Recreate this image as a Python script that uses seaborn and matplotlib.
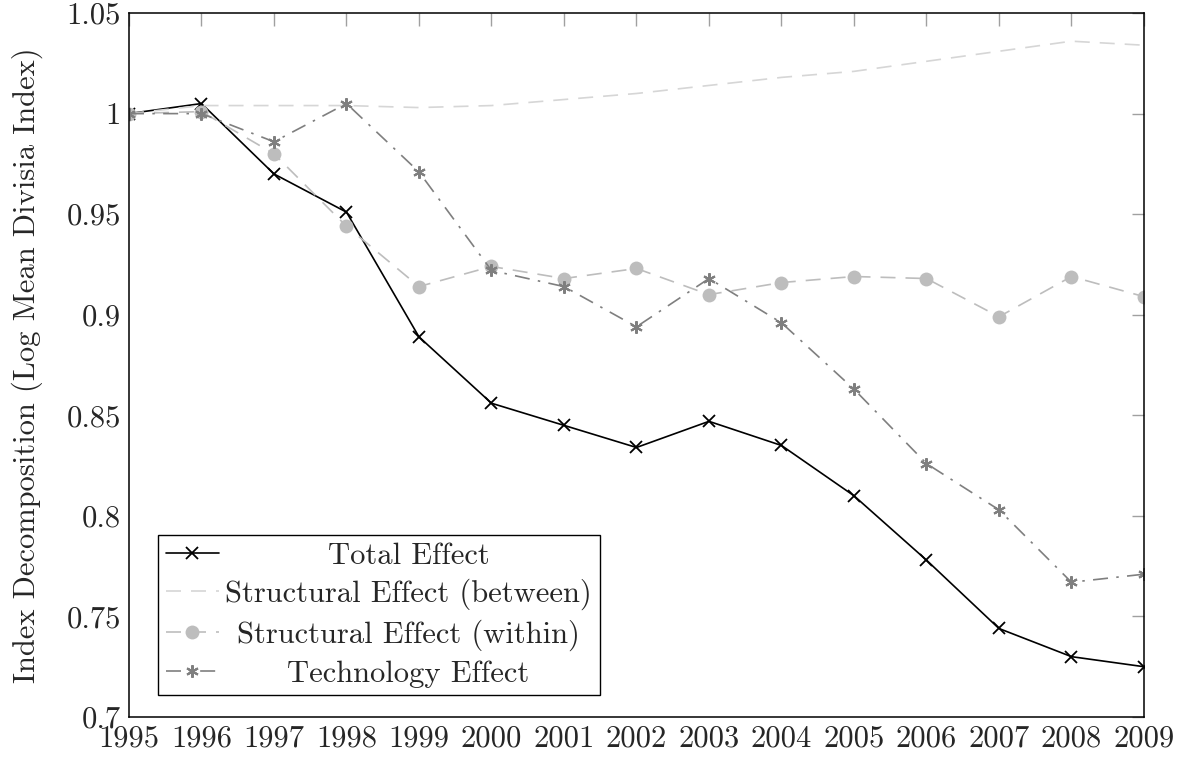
import matplotlib
matplotlib.use("Agg")
import matplotlib.pyplot as plt
import seaborn as sns

"""
Index decomposition chart (LMDI), pgfplots look
"""

years = [1995, 1996, 1997, 1998, 1999, 2000, 2001, 2002, 2003, 2004, 2005, 2006, 2007, 2008, 2009]
total_effect = [1.0, 1.005, 0.970, 0.951, 0.889, 0.856, 0.845, 0.834, 0.847, 0.835, 0.810, 0.778, 0.744, 0.730, 0.725]
struct_between = [1.0, 1.004, 1.004, 1.004, 1.003, 1.004, 1.007, 1.010, 1.014, 1.018, 1.021, 1.026, 1.031, 1.036, 1.034]
struct_within = [1.0, 1.001, 0.980, 0.944, 0.914, 0.924, 0.918, 0.923, 0.910, 0.916, 0.919, 0.918, 0.899, 0.919, 0.909]
tech_effect = [1.0, 1.0, 0.986, 1.005, 0.971, 0.922, 0.914, 0.894, 0.918, 0.896, 0.863, 0.826, 0.803, 0.767, 0.771]

series_labels = ["Total Effect", "Structural Effect (between)", "Structural Effect (within)", "Technology Effect"]
y_ticks = [0.7, 0.75, 0.8, 0.85, 0.9, 0.95, 1.0, 1.05]
y_tick_labels = ["0.7", "0.75", "0.8", "0.85", "0.9", "0.95", "1", "1.05"]

sns.set_style("white")
plt.rcParams["font.family"] = ["cmr10", "DejaVu Serif"]
plt.rcParams["axes.formatter.use_mathtext"] = True
plt.rcParams["mathtext.fontset"] = "cm"

FS = 22

fig = plt.figure(figsize=(11.91, 7.58), dpi=100)
ax = fig.add_axes([0.1083, 0.0541, 0.8522, 0.9287])

sns.lineplot(x=years, y=total_effect, ax=ax, color="black", linestyle="-",
             marker="x", markersize=9, markeredgewidth=1.3, markeredgecolor="black",
             linewidth=1.2, label=series_labels[0])
sns.lineplot(x=years, y=struct_between, ax=ax, color="#d6d6d6", linestyle=(0, (9, 6)),
             linewidth=1.2, label=series_labels[1])
sns.lineplot(x=years, y=struct_within, ax=ax, color="#bdbdbd", linestyle=(0, (9, 6)),
             marker="o", markersize=10, markeredgewidth=0, markerfacecolor="#bdbdbd",
             linewidth=1.2, label=series_labels[2])
sns.lineplot(x=years, y=tech_effect, ax=ax, color="#7f7f7f", linestyle=(0, (9, 5, 1.5, 5)),
             marker=(6, 2, 0), markersize=9, markeredgewidth=1.5, markeredgecolor="#7f7f7f",
             linewidth=1.2, label=series_labels[3])

ax.set_xlim(1995, 2009)
ax.set_ylim(0.7, 1.05)
ax.set_xticks(years)
ax.set_xticklabels([str(y) for y in years])
ax.set_yticks(y_ticks)
ax.set_yticklabels(y_tick_labels)
ax.tick_params(axis="both", which="major", direction="in", length=9, width=1.0,
               color="#a0a0a0", labelsize=FS, top=True, right=True, pad=6)
ax.set_ylabel("Index Decomposition (Log Mean Divisia Index)", fontsize=FS, labelpad=17)
ax.set_xlabel("")

for side in ax.spines.values():
    side.set_color("black")
    side.set_linewidth(1.1)

leg = ax.legend(loc="lower left", bbox_to_anchor=(0.0286, 0.031), borderaxespad=0,
                fontsize=FS, frameon=True, fancybox=False, edgecolor="black",
                handlelength=1.75, labelspacing=0.3, borderpad=0.25, handletextpad=0.2)
leg.get_frame().set_linewidth(1.0)
leg.get_frame().set_alpha(1)

# centre the legend texts like pgfplots does
fig.canvas.draw()
renderer = fig.canvas.get_renderer()
widths = [t.get_window_extent(renderer).width for t in leg.get_texts()]
for t, w in zip(leg.get_texts(), widths):
    t.set_x((max(widths) - w) / 2)

fig.savefig("out.png", dpi=100)
